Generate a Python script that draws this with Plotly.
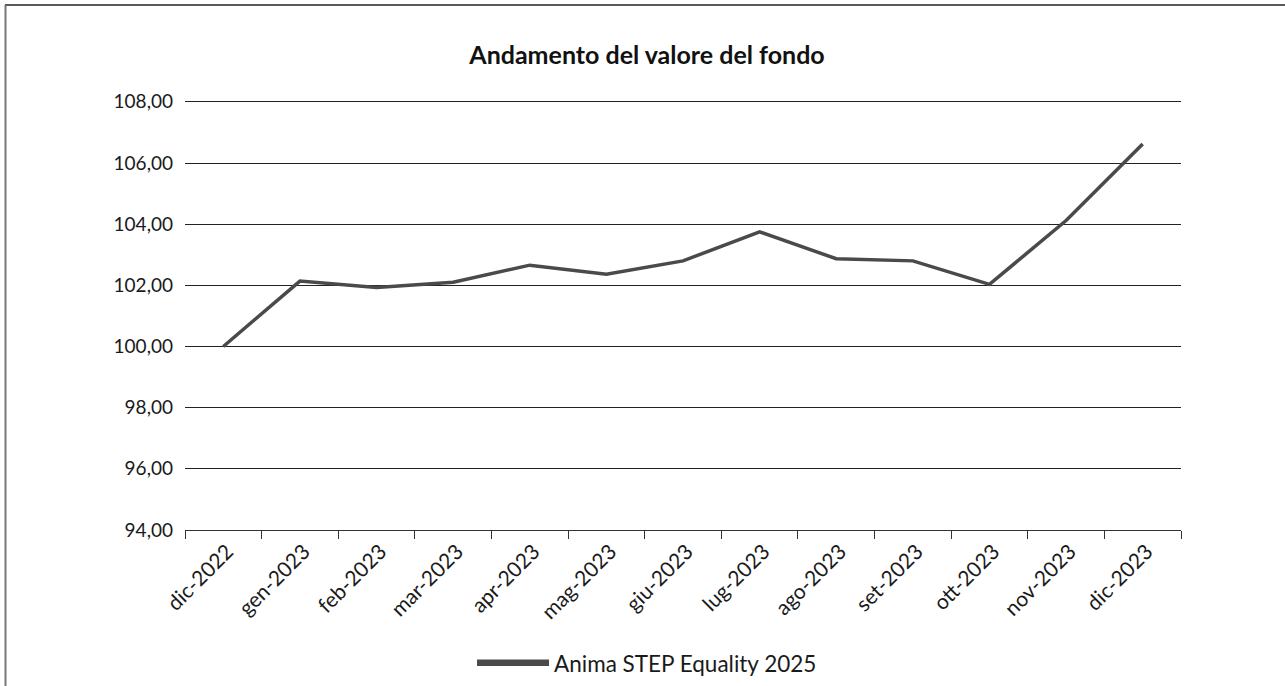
import plotly.graph_objects as go

categories = ["dic-2022", "gen-2023", "feb-2023", "mar-2023", "apr-2023", "mag-2023",
              "giu-2023", "lug-2023", "ago-2023", "set-2023", "ott-2023", "nov-2023", "dic-2023"]
values = [100.00, 102.14, 101.93, 102.10, 102.66, 102.36, 102.80, 103.75,
          102.87, 102.80, 102.03, 104.12, 106.62]
y_ticks = [94, 96, 98, 100, 102, 104, 106, 108]
series_name = "Anima STEP Equality 2025"
title_text = "Andamento del valore del fondo"

W, H = 1285, 686
L, R, T, B = 185, 104, 100, 156
pw, ph = W - L - R, H - T - B

def px_x(px):
    return (px - L) / pw

def px_y(py):
    return (H - B - py) / ph

line_color = "#4a4a4a"
font_family = "Lato, 'Open Sans', sans-serif"

fig = go.Figure()
fig.add_trace(go.Scatter(
    x=categories, y=values, mode="lines", name=series_name,
    line=dict(color=line_color, width=3.5), showlegend=False,
    hovertemplate="%{x}: %{y:.2f}<extra></extra>",
))

fig.update_layout(
    width=W, height=H,
    margin=dict(l=L, r=R, t=T, b=B, pad=0),
    paper_bgcolor="white", plot_bgcolor="white",
    separators=",.",
    font=dict(family=font_family, size=17, color="#1a1a1a"),
    title=dict(text="<b>" + title_text + "</b>", x=647 / W, xanchor="center",
               xref="container", yref="container", y=1 - 55 / H, yanchor="middle",
               font=dict(size=25, color="#111111", family=font_family)),
    xaxis=dict(
        type="category", tickson="boundaries", ticks="outside", ticklen=8,
        tickcolor="#333333", tickwidth=1, showline=True, linecolor="#333333", linewidth=1,
        showgrid=False, tickangle=-45, tickfont=dict(size=21, color="#1a1a1a"),
        ticklabelshift=4,
        range=[-0.5, len(categories) - 0.5],
    ),
    yaxis=dict(
        range=[94, 108.06], tickvals=y_ticks, tickformat=".2f", showgrid=True,
        gridcolor="#222222", gridwidth=1, zeroline=False, showline=False,
        ticks="", ticklabelstandoff=11, tickfont=dict(size=19, color="#1a1a1a"),
    ),
    shapes=[
        dict(type="line", xref="paper", yref="paper", x0=px_x(5), x1=px_x(W + 5),
             y0=px_y(5), y1=px_y(5), line=dict(color="#222222", width=1.5)),
        dict(type="line", xref="paper", yref="paper", x0=px_x(5.5), x1=px_x(5.5),
             y0=px_y(5), y1=px_y(H + 5), line=dict(color="#777777", width=2)),
        dict(type="rect", xref="paper", yref="paper", x0=px_x(477), x1=px_x(549),
             y0=px_y(666), y1=px_y(659.5), fillcolor=line_color, line=dict(width=0)),
    ],
    annotations=[
        dict(text=series_name, xref="paper", yref="paper", x=px_x(552), y=px_y(663),
             xanchor="left", yanchor="middle", showarrow=False,
             font=dict(size=22.5, color="#1a1a1a", family=font_family)),
    ],
)

fig.write_html("out.html", config={"displayModeBar": False},
               post_script="document.body.style.margin='0';")
